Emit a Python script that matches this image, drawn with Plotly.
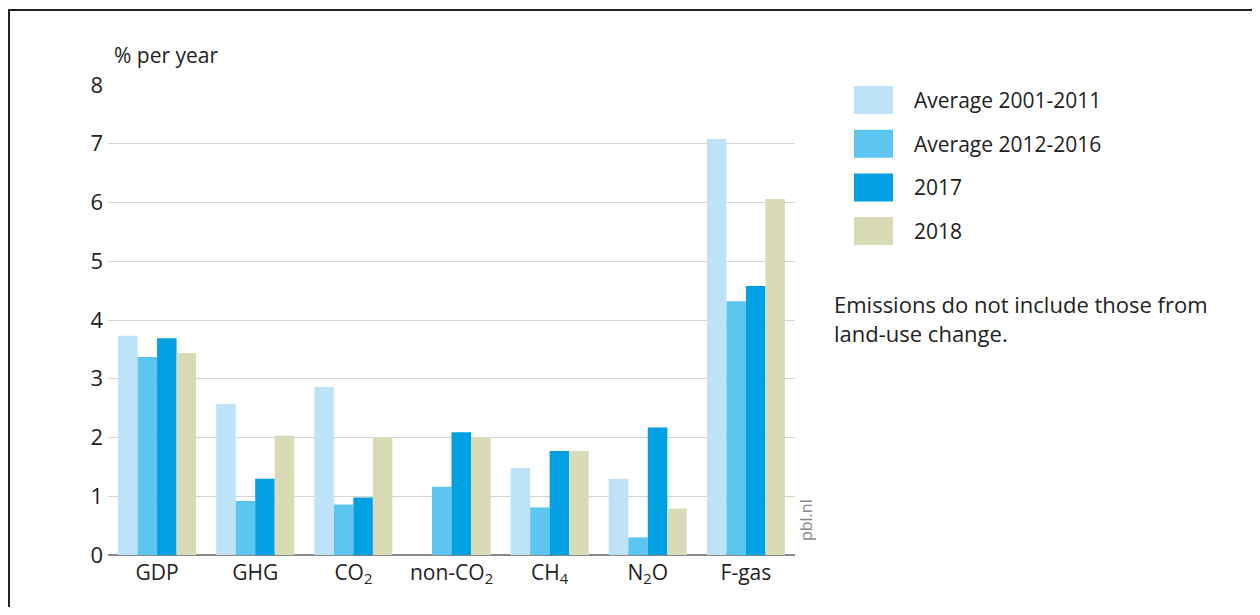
import plotly.graph_objects as go

# categories along the x axis (subscripts as real text)
categories = ["GDP", "GHG", "CO<sub>2</sub>", "non-CO<sub>2</sub>",
              "CH<sub>4</sub>", "N<sub>2</sub>O", "F-gas"]

series_names = ["Average 2001-2011", "Average 2012-2016", "2017", "2018"]

avg_2001_2011 = [3.73, 2.57, 2.86, None, 1.48, 1.30, 7.08]
avg_2012_2016 = [3.37, 0.92, 0.86, 1.16, 0.81, 0.30, 4.32]
y2017 = [3.69, 1.30, 0.98, 2.09, 1.77, 2.17, 4.58]
y2018 = [3.44, 2.03, 2.00, 2.00, 1.77, 0.79, 6.06]

series_values = [avg_2001_2011, avg_2012_2016, y2017, y2018]
colors = ["#bee3f8", "#5cc6f0", "#00a0e3", "#d9dab6"]

y_ticks = [0, 1, 2, 3, 4, 5, 6, 7, 8]

note = "Emissions do not include those from<br>land-use change."

# page has an 8px body margin, so screen pixel = figure pixel + 8;
# figure is sized so the page does not overflow the 1260x615 window
OFF = 8
FIG_W, FIG_H = 1260 - OFF, 615 - 2 * OFF
# plot area in screen pixels
L, R, T, B = 108, 795, 85, 555
W, H = R - L, B - T


def px(x):
    return (x - L) / W


def py(y):
    return (B - y) / H


axis_font = dict(family="Open Sans, Lato, sans-serif", size=21, color="#222")
text_font = dict(family="Open Sans, Lato, sans-serif", size=21, color="#222")

fig = go.Figure()
for name, vals, col in zip(series_names, series_values, colors):
    fig.add_trace(go.Bar(x=categories, y=vals, name=name,
                         marker=dict(color=col, line=dict(width=0))))

fig.update_layout(
    width=FIG_W, height=FIG_H,
    margin=dict(l=L - OFF, r=FIG_W - (R - OFF), t=T - OFF, b=FIG_H - (B - OFF)),
    paper_bgcolor="white", plot_bgcolor="white",
    barmode="group", bargap=0.205, bargroupgap=0,
    showlegend=False,
    xaxis=dict(tickfont=axis_font, showgrid=False, ticks="",
               showline=False, zeroline=False, ticklabelstandoff=3),
    yaxis=dict(range=[0, 8], tickvals=y_ticks,
               tickfont=dict(axis_font, size=22),
               showgrid=True, gridcolor="#d4d4d4", gridwidth=1,
               zeroline=True, zerolinecolor="#8a8a8a", zerolinewidth=2,
               ticks="", ticklabelstandoff=4, showline=False),
)

# outer frame (bottom edge runs off the page)
fig.add_shape(type="rect", xref="paper", yref="paper",
              x0=px(9), x1=px(1258), y0=py(650), y1=py(10),
              line=dict(color="#222", width=2), fillcolor="rgba(0,0,0,0)",
              layer="above")

# axis title
fig.add_annotation(text="% per year", xref="paper", yref="paper",
                   x=px(112), y=py(55), xanchor="left", yanchor="middle",
                   showarrow=False, font=dict(axis_font, size=21))

# source tag
fig.add_annotation(text="pbl.nl", xref="paper", yref="paper",
                   x=px(806), y=py(520), textangle=-90,
                   xanchor="center", yanchor="middle", showarrow=False,
                   font=dict(family="Open Sans, sans-serif", size=16, color="#8a8a8a"))

# custom legend with big swatches
for i, (name, col) in enumerate(zip(series_names, colors)):
    top = 86 + i * 43.7
    fig.add_shape(type="rect", xref="paper", yref="paper",
                  x0=px(854), x1=px(893), y0=py(top + 28), y1=py(top),
                  line=dict(width=0), fillcolor=col)
    fig.add_annotation(text=name, xref="paper", yref="paper",
                       x=px(912), y=py(top + 14), xanchor="left", yanchor="middle",
                       showarrow=False, font=text_font)

fig.add_annotation(text=note, xref="paper", yref="paper",
                   x=px(832), y=py(318), xanchor="left", yanchor="middle",
                   align="left", showarrow=False, font=dict(text_font, size=22))

fig.write_html("out.html")
